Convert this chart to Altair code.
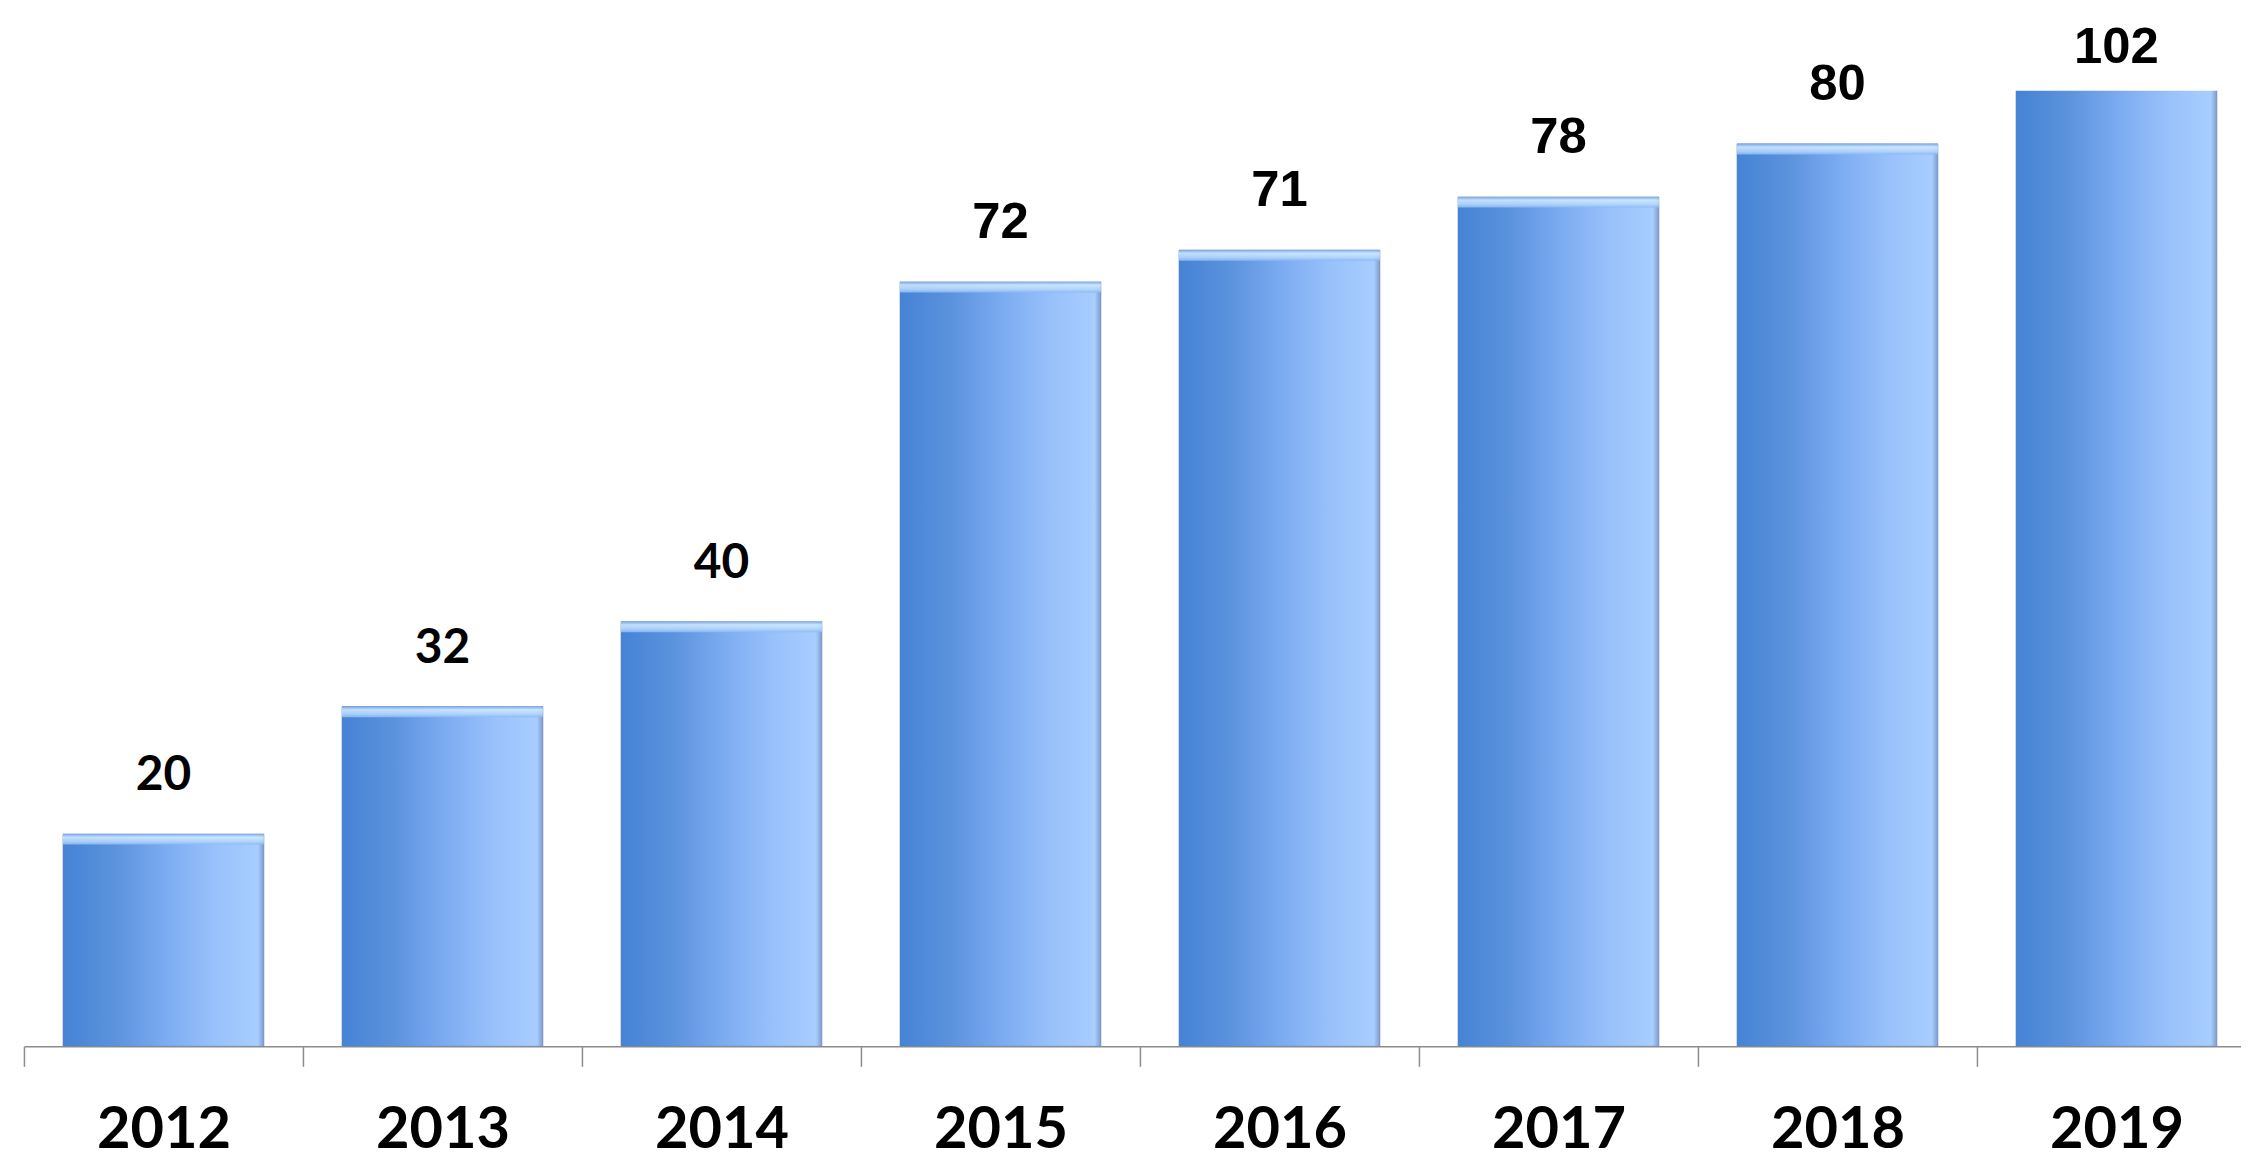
import altair as alt
import pandas as pd

# ---- data ----
years = ["2012", "2013", "2014", "2015", "2016", "2017", "2018", "2019"]
# bar heights as drawn (axis tops out at 90, the 2019 bar is clipped)
bar_values = [20, 32, 40, 72, 75, 80, 85, 102]
# labels printed above the bars
label_values = ["20", "32", "40", "72", "71", "78", "80", "102"]

Y_MAX = 90
BAR_BAND = 0.72

df = pd.DataFrame({"year": years, "value": bar_values, "label": label_values})

x_scale = alt.Scale(range=[0, 2240], paddingInner=0, paddingOuter=0)
x_enc = alt.X(
    "year:N",
    sort=years,
    scale=x_scale,
    axis=alt.Axis(
        title=None,
        labelAngle=0,
        labelFont="Lato",
        labelFontWeight="bold",
        labelFontSize=58,
        labelColor="#000000",
        labelBaseline="alphabetic",
        labelPadding=82,
        domainColor="#8c8c8c",
        domainWidth=1.5,
        tickColor="#8c8c8c",
        tickWidth=1.5,
        tickSize=20,
        tickBand="extent",
        grid=False,
    ),
)
y_scale = alt.Scale(domain=[0, Y_MAX], nice=False, zero=True)

side_gradient = alt.Gradient(
    gradient="linear",
    x1=0, x2=1, y1=0, y2=0,
    stops=[
        alt.GradientStop(color="#4683d6", offset=0.0),
        alt.GradientStop(color="#5a92dc", offset=0.25),
        alt.GradientStop(color="#7aaaf0", offset=0.5),
        alt.GradientStop(color="#98c1fb", offset=0.75),
        alt.GradientStop(color="#a8cdff", offset=0.97),
        alt.GradientStop(color="#7f9ccc", offset=1.0),
    ],
)

bars = alt.Chart(df).mark_bar(
    color=side_gradient,
    clip=True,
    width=alt.RelativeBandSize(BAR_BAND),
    stroke="#5d7fb8",
    strokeWidth=1,
    strokeOpacity=0.6,
).encode(
    x=x_enc,
    y=alt.Y("value:Q", scale=y_scale, axis=None),
)

top_gradient = alt.Gradient(
    gradient="linear",
    x1=0, x2=0, y1=0, y2=1,
    stops=[
        alt.GradientStop(color="#7faae6", offset=0.0),
        alt.GradientStop(color="#cfe9ff", offset=0.3),
        alt.GradientStop(color="#b4d6fc", offset=0.7),
        alt.GradientStop(color="#8cb8f2", offset=1.0),
    ],
)

bevel = alt.Chart(df).transform_calculate(
    bevel_bottom="datum.value - 1.0"
).mark_bar(
    color=top_gradient, clip=True, opacity=0.9,
    width=alt.RelativeBandSize(BAR_BAND),
).encode(
    x=alt.X("year:N", sort=years, scale=x_scale),
    y=alt.Y("value:Q", scale=y_scale, axis=None),
    y2="bevel_bottom:Q",
)

label_base = alt.Chart(df).transform_calculate(
    label_y=f"min(datum.value, {Y_MAX} - 1.5)"
)

labels_calibri = label_base.transform_filter(
    alt.FieldOneOfPredicate(field="year", oneOf=years[:3])
).mark_text(
    font="Lato", fontWeight="bold", fontSize=48, color="#000000",
    baseline="alphabetic", dy=-44,
).encode(
    x=alt.X("year:N", sort=years, scale=x_scale),
    y=alt.Y("label_y:Q", scale=y_scale, axis=None),
    text="label:N",
)

labels_arial = label_base.transform_filter(
    {"not": alt.FieldOneOfPredicate(field="year", oneOf=years[:3])}
).mark_text(
    font="Liberation Sans, Arial", fontWeight="bold", fontSize=51, color="#000000",
    baseline="alphabetic", dy=-44,
).encode(
    x=alt.X("year:N", sort=years, scale=x_scale),
    y=alt.Y("label_y:Q", scale=y_scale, axis=None),
    text="label:N",
)

chart = alt.layer(bars, bevel, labels_calibri, labels_arial).properties(
    width=2225,
    height=959,
    autosize=alt.AutoSizeParams(type="none"),
    padding={"left": 16, "top": 81, "right": 0, "bottom": 116},
    background="#ffffff",
).configure_view(stroke=None)

chart.save("out.html", embed_options={"renderer": "svg", "actions": False})
